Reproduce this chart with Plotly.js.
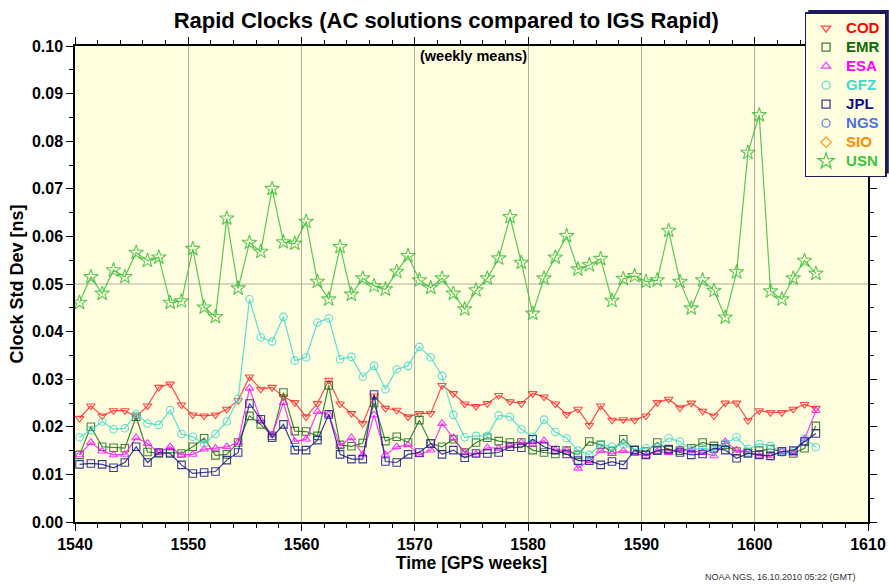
<!DOCTYPE html>
<html>
<head>
<meta charset="utf-8">
<script src="https://cdn.plot.ly/plotly-3.0.1.min.js"></script>
<style>
  html, body { margin: 0; padding: 0; background: #ffffff; }
  #chart { width: 889px; height: 585px; }
</style>
</head>
<body>
<div id="chart"></div>
<script>
// GPS week (mid-week plotting position)
const weeks = [1540.4,1541.4,1542.4,1543.4,1544.4,1545.4,1546.4,1547.4,1548.4,1549.4,
  1550.4,1551.4,1552.4,1553.4,1554.4,1555.4,1556.4,1557.4,1558.4,1559.4,
  1560.4,1561.4,1562.4,1563.4,1564.4,1565.4,1566.4,1567.4,1568.4,1569.4,
  1570.4,1571.4,1572.4,1573.4,1574.4,1575.4,1576.4,1577.4,1578.4,1579.4,
  1580.4,1581.4,1582.4,1583.4,1584.4,1585.4,1586.4,1587.4,1588.4,1589.4,
  1590.4,1591.4,1592.4,1593.4,1594.4,1595.4,1596.4,1597.4,1598.4,1599.4,
  1600.4,1601.4,1602.4,1603.4,1604.4,1605.4];

const cod = [.0218,.0244,.0223,.0234,.0234,.0221,.0244,.0283,.0290,.0246,
  .0225,.0223,.0225,.0237,.0255,.0305,.0279,.0283,.0263,.0251,
  .0221,.0249,.0298,.0248,.0228,.0207,.0265,.0239,.0235,.0221,
  .0228,.0228,.0287,.0270,.0248,.0243,.0249,.0266,.0253,.0249,
  .0270,.0263,.0248,.0226,.0237,.0203,.0244,.0214,.0215,.0214,
  .0223,.0251,.0258,.0240,.0250,.0233,.0223,.0250,.0250,.0213,
  .0234,.0230,.0230,.0237,.0247,.0239];

const emr = [.0141,.0200,.0158,.0156,.0155,.0221,.0147,.0144,.0146,.0144,
  .0158,.0176,.0140,.0142,.0167,.0223,.0205,.0181,.0272,.0191,
  .0190,.0181,.0287,.0162,.0159,.0166,.0250,.0170,.0179,.0167,
  .0214,.0165,.0158,.0174,.0146,.0167,.0177,.0170,.0167,.0167,
  .0151,.0146,.0143,.0150,.0141,.0169,.0162,.0148,.0174,.0151,
  .0148,.0167,.0151,.0150,.0155,.0167,.0160,.0162,.0148,.0146,
  .0150,.0153,.0148,.0144,.0155,.0202];

const esa = [.0141,.0167,.0149,.0141,.0142,.0177,.0165,.0146,.0158,.0141,
  .0142,.0153,.0155,.0158,.0167,.0281,.0214,.0183,.0251,.0169,
  .0174,.0232,.0226,.0160,.0177,.0141,.0225,.0141,.0158,.0162,
  .0141,.0151,.0207,.0177,.0146,.0142,.0156,.0155,.0160,.0167,
  .0164,.0171,.0151,.0151,.0113,.0129,.0150,.0144,.0150,.0144,
  .0139,.0148,.0146,.0152,.0150,.0146,.0139,.0169,.0151,.0148,
  .0139,.0139,.0148,.0143,.0174,.0234];

const gfz = [.0178,.0193,.0211,.0195,.0197,.0227,.0207,.0204,.0235,.0185,
  .0179,.0164,.0185,.0211,.0259,.0468,.0388,.0379,.0431,.0339,
  .0346,.0419,.0428,.0342,.0347,.0305,.0328,.0279,.0321,.0328,
  .0368,.0346,.0307,.0225,.0178,.0181,.0181,.0224,.0221,.0195,
  .0179,.0215,.0189,.0176,.0150,.0141,.0164,.0158,.0163,.0152,
  .0155,.0158,.0176,.0169,.0152,.0155,.0151,.0164,.0178,.0153,
  .0164,.0160,.0146,.0148,.0176,.0157];

const jpl = [.0121,.0123,.0121,.0114,.0125,.0158,.0125,.0146,.0144,.0120,
  .0102,.0104,.0106,.0130,.0146,.0249,.0216,.0177,.0205,.0151,
  .0151,.0172,.0226,.0142,.0132,.0132,.0268,.0127,.0125,.0142,
  .0146,.0165,.0142,.0151,.0135,.0144,.0144,.0146,.0158,.0156,
  .0174,.0158,.0151,.0143,.0129,.0129,.0120,.0127,.0120,.0151,
  .0141,.0150,.0153,.0146,.0141,.0143,.0155,.0151,.0134,.0144,
  .0141,.0139,.0148,.0150,.0169,.0186];

const usn = [.0461,.0515,.0480,.0529,.0515,.0566,.0549,.0556,.0461,.0464,
  .0574,.0451,.0431,.0638,.0491,.0587,.0568,.0700,.0588,.0585,
  .0631,.0505,.0468,.0578,.0478,.0512,.0496,.0489,.0526,.0559,
  .0508,.0492,.0512,.0480,.0447,.0487,.0512,.0554,.0641,.0545,
  .0438,.0512,.0556,.0601,.0531,.0540,.0553,.0465,.0511,.0517,
  .0505,.0508,.0612,.0505,.0449,.0508,.0486,.0430,.0525,.0776,
  .0855,.0485,.0468,.0512,.0549,.0522];

// NGS and SIO have no values in this period (legend only)
const ngs = [];
const sio = [];

const xTickVals = [1540,1550,1560,1570,1580,1590,1600,1610];
const yTickVals = [0,0.01,0.02,0.03,0.04,0.05,0.06,0.07,0.08,0.09,0.10];
const yTickText = ["0.00","0.01","0.02","0.03","0.04","0.05","0.06","0.07","0.08","0.09","0.10"];

const centers = [
  {name:"COD", y:cod, sym:"triangle-down-open", line:"rgba(255,40,40,0.85)", text:"#ff0000"},
  {name:"EMR", y:emr, sym:"square-open", line:"rgba(30,110,30,0.85)", text:"#0b6b0b"},
  {name:"ESA", y:esa, sym:"triangle-up-open", line:"rgba(255,20,255,0.85)", text:"#ff00ff"},
  {name:"GFZ", y:gfz, sym:"circle-open", line:"rgba(64,216,208,0.85)", text:"#40d8d0"},
  {name:"JPL", y:jpl, sym:"square-open", line:"rgba(25,25,140,0.85)", text:"#10108a"},
  {name:"NGS", y:ngs, sym:"circle-open", line:"rgba(70,110,230,0.85)", text:"#4a70e0"},
  {name:"SIO", y:sio, sym:"diamond-open", line:"rgba(255,140,0,0.85)", text:"#ff8c00"},
  {name:"USN", y:usn, sym:"star-open", line:"rgba(60,190,60,0.85)", text:"#3cc43c"}
];

const traces = [];
centers.forEach(c => {
  if (c.y.length) {
    traces.push({
      type:"scatter", mode:"lines+markers", x: weeks, y: c.y,
      name: c.name, showlegend:false, hoverinfo:"x+y+name",
      line:{color:c.line, width:1.2},
      marker:{symbol:c.sym, size: c.name === "USN" ? 11 : 7.5, color:c.line, line:{color:c.line, width:1.1}}
    });
  }
});
centers.forEach(c => {
  traces.push({
    type:"scatter", mode:"markers", x:[null], y:[null],
    name:'<span style="color:' + c.text + ';font-size:15px"><b>' + c.name + '</b></span>',
    showlegend:true,
    marker:{symbol:c.sym, size: c.name === "USN" ? 12 : 8, color:c.line, line:{color:c.line, width:1.3}}
  });
});

const F = "Liberation Sans, Arial, Helvetica, sans-serif";

const layout = {
  width: 889, height: 585,
  margin: {l:75, r:21, t:46, b:63, autoexpand:false},
  paper_bgcolor: "#ffffff",
  plot_bgcolor: "#ffffe0",
  font: {family: F, color: "#000000"},
  title: {text: "<b>Rapid Clocks (AC solutions compared to IGS Rapid)</b>",
          font:{family:F, size:22, color:"#000"}, x:0.502, xanchor:"center",
          y: 0.965, yanchor:"middle", yref:"container"},
  showlegend: true,
  legend: {x: 0.92, xanchor:"left", y: 1.071, yanchor:"top",
           bgcolor:"#ffffe0", bordercolor:"#1c1c5c", borderwidth:1.5,
           font:{family:F, size:12}, tracegroupgap:0, itemsizing:"trace"},
  xaxis: {
    range:[1540,1610], tickvals:xTickVals, ticktext:xTickVals.map(String),
    ticks:"outside", ticklen:7, tickwidth:1.2, tickcolor:"#000",
    minor:{dtick:2, tick0:1540, ticks:"outside", ticklen:4, tickcolor:"#000", showgrid:false},
    showline:true, linecolor:"#000", linewidth:1.5, mirror:"allticks",
    showgrid:true, gridcolor:"#b0b0a0", gridwidth:1, zeroline:false,
    tickfont:{family:F, size:16, color:"#000", weight:"bold"},
    title:{text:"<b>Time [GPS weeks]</b>", font:{family:F, size:17.5}, standoff:5}
  },
  yaxis: {
    range:[0,0.10], tickvals:yTickVals, ticktext:yTickText,
    ticks:"outside", ticklen:7, tickwidth:1.2, tickcolor:"#000",
    minor:{dtick:0.005, tick0:0, ticks:"outside", ticklen:4, tickcolor:"#000", showgrid:false},
    showline:true, linecolor:"#000", linewidth:1.5, mirror:"allticks",
    showgrid:false, zeroline:false,
    tickfont:{family:F, size:16, color:"#000", weight:"bold"},
    title:{text:"<b>Clock Std Dev [ns]</b>", font:{family:F, size:18}, standoff:4}
  },
  shapes: [
    {type:"line", xref:"paper", x0:0, x1:1, yref:"y", y0:0.05, y1:0.05,
     line:{color:"#b0b0a0", width:1}, layer:"below"}
  ],
  annotations: [
    {text:"<b>(weekly means)</b>", xref:"paper", x:0.502, yref:"paper", y:0.979,
     xanchor:"center", yanchor:"middle", showarrow:false, font:{family:F, size:14.5, color:"#000"}},
    {text:"NOAA NGS, 16.10.2010 05:22 (GMT)", xref:"paper", x:0.987, yref:"paper", y:-0.116,
     xanchor:"right", yanchor:"middle", showarrow:false, font:{family:F, size:9, color:"#333"}}
  ]
};

Plotly.newPlot("chart", traces, layout, {displayModeBar:false, responsive:false}).then(gd => {
  // drop shadow behind the legend box (offset up and right)
  const bg = gd.querySelector(".legend .bg");
  if (!bg) return;
  const r = bg.getBoundingClientRect();
  const g = gd.getBoundingClientRect();
  const fl = gd._fullLayout, s = fl._size;
  const toPx = px => (px - g.left - s.l) / s.w;
  const toPy = py => 1 - (py - g.top - s.t) / s.h;
  const off = 3;
  Plotly.relayout(gd, {shapes: layout.shapes.concat([{
    type:"rect", xref:"paper", yref:"paper",
    x0: toPx(r.left + off), x1: toPx(r.right + off),
    y0: toPy(r.bottom - off), y1: toPy(r.top - off),
    fillcolor:"#1c1c5c", line:{width:0}, layer:"above"
  }])});
});
</script>
</body>
</html>
